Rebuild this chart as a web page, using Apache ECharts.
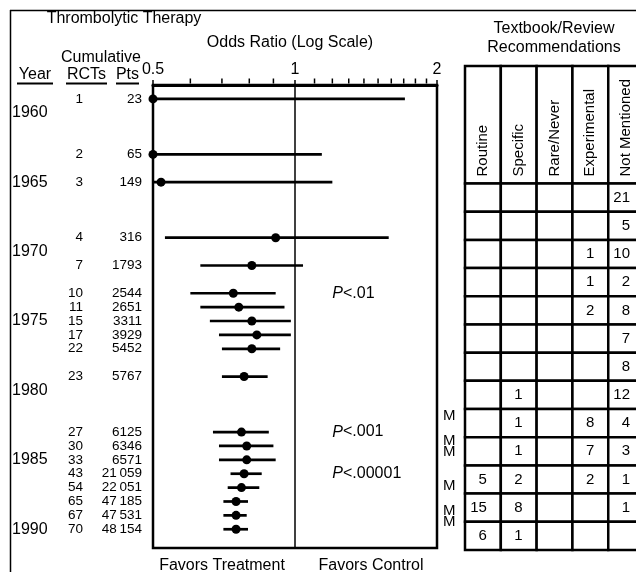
<!DOCTYPE html>
<html><head><meta charset="utf-8">
<script src="https://cdn.jsdelivr.net/npm/echarts@6/dist/echarts.min.js"></script>
<style>html,body{margin:0;padding:0;background:#fff}#c{width:636px;height:572px}</style>
</head><body><div id="c"></div>
<script>
// ---- data ----
const rowYears = [1959,1963,1965,1969,1971,1973,1974,1975,1976,1977,1979,1983,1984,1985,1986,1987,1988,1989,1990];
const cumRCTs = ['1','2','3','4','7','10','11','15','17','22','23','27','30','33','43','54','65','67','70'];
const cumPts = ['23','65','149','316','1793','2544','2651','3311','3929','5452','5767','6125','6346','6571','21\u2009059','22\u2009051','47\u2009185','47\u2009531','48\u2009154'];
const oddsRatio = [0.5,0.5,0.52,0.91,0.81,0.74,0.76,0.81,0.83,0.81,0.78,0.77,0.79,0.79,0.78,0.77,0.75,0.75,0.75];
const ciLow  = [0.5,0.5,0.5,0.53,0.63,0.60,0.63,0.66,0.69,0.70,0.70,0.67,0.69,0.69,0.73,0.72,0.705,0.705,0.705];
const ciHigh = [1.71,1.14,1.2,1.58,1.04,0.91,0.95,0.98,0.98,0.93,0.875,0.88,0.90,0.91,0.85,0.84,0.795,0.79,0.795];
const yearTicks = [1960,1965,1970,1975,1980,1985,1990];
const orTicks = [0.5,1,2];
const orMinorTicks = [0.6,0.7,0.8,0.9,1.1,1.2,1.3,1.4,1.5,1.6,1.7,1.8,1.9];
const pNotes = ['<.01','<.001','<.00001'];
const pYears = [1973,1983,1986];
const pNoteOR = 1.2;
const metaYears = [1981.8,1983.6,1984.4,1986.9,1988.7,1989.5];
const recColumns = ['Routine','Specific','Rare/Never','Experimental','Not Mentioned'];
const recPeriodStart = [1965,1967,1969,1971,1973,1975,1977,1979,1981,1983,1985,1987,1989];
const recPeriodLen = 2;
const recRoutine      = [null,null,null,null,null,null,null,null,null,null,5,15,6];
const recSpecific     = [null,null,null,null,null,null,null,1,1,1,2,8,1];
const recRareNever    = [null,null,null,null,null,null,null,null,null,null,null,null,null];
const recExperimental = [null,null,1,1,2,null,null,null,8,7,2,null,null];
const recNotMentioned = [21,5,10,2,8,7,8,12,4,3,1,1,null];

// ---- chart ----
const FONT = "'Liberation Sans', Arial, Helvetica, sans-serif";
const recValues = [recRoutine, recSpecific, recRareNever, recExperimental, recNotMentioned];
const cellData = [];
recValues.forEach((col, c) => col.forEach((v, r) => cellData.push([c, recPeriodStart[r], v == null ? '' : String(v)])));

const chart = echarts.init(document.getElementById('c'), null, {renderer: 'canvas'});
const yRange = {min: 1958, max: 1991.35};
const hideAxis = {axisLine: {show: false}, axisTick: {show: false}, splitLine: {show: false}};
const keepLabels = {hideOverlap: false, showMinLabel: true, showMaxLabel: true};
// the last table column is cut by the picture's right edge: only this much of the 5 columns is visible
const tableVisibleCols = 4.775;
// "M" marks sit close together; spread them over two label axes so none is dropped
const metaYearsA = metaYears.filter((_, i) => i % 2 === 0);
const metaYearsB = metaYears.filter((_, i) => i % 2 === 1);
const mAxis = vals => Object.assign({gridIndex: 0, type: 'value', inverse: true, position: 'right'}, yRange, hideAxis,
  {axisLabel: Object.assign({customValues: vals, align: 'left', margin: 6, fontSize: 15, color: '#000', fontFamily: FONT,
    formatter: () => 'M'}, keepLabels)});

chart.setOption({
  animation: false,
  backgroundColor: '#fff',
  textStyle: {fontFamily: FONT, color: '#000'},
  grid: [
    {left: 153, top: 85, width: 284, height: 463, show: true, borderColor: '#000', borderWidth: 2.5, backgroundColor: 'transparent'},
    {left: 465, top: 66, width: 171, height: 484, show: false}
  ],
  xAxis: [
    {gridIndex: 0, type: 'log', logBase: 2, min: 0.5, max: 2, interval: 1, splitNumber: 2, position: 'top',
     axisLine: {show: true, lineStyle: {color: '#000', width: 3}},
     axisTick: {show: true, length: 5, lineStyle: {color: '#000', width: 1.5}},
     axisLabel: Object.assign({show: true, color: '#000', fontSize: 16, fontFamily: FONT, margin: 7,
       formatter: v => { const t = orTicks.find(o => Math.abs(o - v) < 1e-6); return t == null ? '' : String(t); }}, keepLabels),
     splitLine: {show: false}},
    {gridIndex: 1, type: 'value', min: 0, max: tableVisibleCols, show: false}
  ],
  yAxis: [
    Object.assign({gridIndex: 0, type: 'value', inverse: true, position: 'left'}, yRange, hideAxis,
      {axisLabel: Object.assign({customValues: yearTicks, align: 'left', margin: 141, fontSize: 16, color: '#000', fontFamily: FONT,
        formatter: v => String(v)}, keepLabels)}),
    Object.assign({gridIndex: 0, type: 'value', inverse: true, position: 'left'}, yRange, hideAxis,
      {axisLabel: Object.assign({customValues: rowYears, align: 'right', margin: 70, fontSize: 13.5, lineHeight: 12, color: '#000', fontFamily: FONT,
        formatter: v => cumRCTs[rowYears.indexOf(v)] || ''}, keepLabels)}),
    Object.assign({gridIndex: 0, type: 'value', inverse: true, position: 'left'}, yRange, hideAxis,
      {axisLabel: Object.assign({customValues: rowYears, align: 'right', margin: 11, fontSize: 13.5, lineHeight: 12, color: '#000', fontFamily: FONT,
        formatter: v => cumPts[rowYears.indexOf(v)] || ''}, keepLabels)}),
    mAxis(metaYearsA),
    mAxis(metaYearsB),
    {gridIndex: 1, type: 'value', inverse: true, min: 1956.66, max: 1991, show: false}
  ],
  series: [
    {
      type: 'custom', xAxisIndex: 0, yAxisIndex: 0, silent: true,
      data: rowYears.map((y, i) => [ciLow[i], ciHigh[i], y]),
      encode: {x: [0, 1], y: 2},
      renderItem: (params, api) => {
        const a = api.coord([api.value(0), api.value(2)]);
        const b = api.coord([api.value(1), api.value(2)]);
        return {type: 'line', shape: {x1: a[0], y1: a[1], x2: b[0], y2: b[1]}, style: {stroke: '#000', lineWidth: 2.7}};
      }
    },
    {
      type: 'scatter', xAxisIndex: 0, yAxisIndex: 0, clip: false, silent: true,
      symbolSize: 9, itemStyle: {color: '#000', opacity: 1},
      data: rowYears.map((y, i) => [oddsRatio[i], y]),
      markLine: {silent: true, symbol: ['none', 'none'], label: {show: false},
        lineStyle: {color: '#000', width: 1.5, type: 'solid', opacity: 1}, data: [{xAxis: 1}]}
    },
    {
      type: 'scatter', xAxisIndex: 0, yAxisIndex: 0, clip: false, silent: true,
      symbol: 'rect', symbolSize: [1.5, 5], symbolOffset: [0, -4], itemStyle: {color: '#000', opacity: 1},
      data: orMinorTicks.map(v => [v, yRange.min])
    },
    {
      type: 'scatter', xAxisIndex: 0, yAxisIndex: 0, clip: false, silent: true,
      symbolSize: 0, itemStyle: {color: '#000', opacity: 1},
      data: pYears.map((y, i) => [pNoteOR, y, pNotes[i]]),
      label: {show: true, position: 'right', distance: 0, color: '#000', fontSize: 16, fontFamily: FONT,
        formatter: p => '{i|P}{n|' + p.value[2] + '}',
        rich: {i: {fontStyle: 'italic', fontSize: 16, fontFamily: FONT, color: '#000'},
               n: {fontSize: 16, fontFamily: FONT, color: '#000'}}}
    },
    {
      type: 'custom', xAxisIndex: 1, yAxisIndex: 5, silent: true, clip: false,
      data: recColumns.map((c, i) => [i, c]),
      renderItem: (params, api) => {
        const i = api.value(0);
        const cs = params.coordSys;
        const x0 = api.coord([i, recPeriodStart[0]])[0];
        const x1 = api.coord([i + 1, recPeriodStart[0]])[0];
        const yb = api.coord([i, recPeriodStart[0]])[1];
        return {type: 'group', children: [
          {type: 'rect', shape: {x: x0, y: cs.y, width: x1 - x0, height: yb - cs.y},
           style: {fill: '#fff', stroke: '#000', lineWidth: 2.5}},
          {type: 'text', x: (x0 + x1) / 2, y: yb - 7, rotation: Math.PI / 2,
           style: {text: recColumns[i], align: 'left', verticalAlign: 'middle', fontSize: 15, fontFamily: FONT, fill: '#000'}}
        ]};
      }
    },
    {
      type: 'custom', xAxisIndex: 1, yAxisIndex: 5, silent: true, clip: false,
      data: cellData,
      encode: {x: 0, y: 1},
      renderItem: (params, api) => {
        const c = api.value(0), y0 = api.value(1);
        const txt = cellData[params.dataIndex][2];
        const p0 = api.coord([c, y0]);
        const p1 = api.coord([c + 1, y0 + recPeriodLen]);
        const children = [{type: 'rect', shape: {x: p0[0], y: p0[1], width: p1[0] - p0[0], height: p1[1] - p0[1]},
          style: {fill: '#fff', stroke: '#000', lineWidth: 2.5}}];
        if (txt) children.push({type: 'text', x: p1[0] - 14, y: (p0[1] + p1[1]) / 2,
          style: {text: txt, align: 'right', verticalAlign: 'middle', fontSize: 15, fontFamily: FONT, fill: '#000'}});
        return {type: 'group', children};
      }
    }
  ],
  graphic: [
    {type: 'line', shape: {x1: 10, y1: 10.5, x2: 636, y2: 10.5}, style: {stroke: '#000', lineWidth: 1.5}},
    {type: 'line', shape: {x1: 10.5, y1: 10, x2: 10.5, y2: 572}, style: {stroke: '#000', lineWidth: 1.5}},
    {type: 'text', x: 124, y: 19, style: {text: 'Thrombolytic Therapy', align: 'center', verticalAlign: 'middle', fontSize: 16, fontFamily: FONT, fill: '#000'}},
    {type: 'text', x: 290, y: 43, style: {text: 'Odds Ratio (Log Scale)', align: 'center', verticalAlign: 'middle', fontSize: 16, fontFamily: FONT, fill: '#000'}},
    {type: 'text', x: 101, y: 58, style: {text: 'Cumulative', align: 'center', verticalAlign: 'middle', fontSize: 16, fontFamily: FONT, fill: '#000'}},
    {type: 'text', x: 35, y: 75, style: {text: 'Year', align: 'center', verticalAlign: 'middle', fontSize: 16, fontFamily: FONT, fill: '#000'}},
    {type: 'text', x: 86.5, y: 75, style: {text: 'RCTs', align: 'center', verticalAlign: 'middle', fontSize: 16, fontFamily: FONT, fill: '#000'}},
    {type: 'text', x: 127.5, y: 75, style: {text: 'Pts', align: 'center', verticalAlign: 'middle', fontSize: 16, fontFamily: FONT, fill: '#000'}},
    {type: 'line', shape: {x1: 17, y1: 83.5, x2: 53, y2: 83.5}, style: {stroke: '#000', lineWidth: 2}},
    {type: 'line', shape: {x1: 66, y1: 83.5, x2: 107, y2: 83.5}, style: {stroke: '#000', lineWidth: 2}},
    {type: 'line', shape: {x1: 116, y1: 83.5, x2: 139, y2: 83.5}, style: {stroke: '#000', lineWidth: 2}},
    {type: 'text', x: 554, y: 28.5, style: {text: 'Textbook/Review', align: 'center', verticalAlign: 'middle', fontSize: 16, fontFamily: FONT, fill: '#000'}},
    {type: 'text', x: 554, y: 47.5, style: {text: 'Recommendations', align: 'center', verticalAlign: 'middle', fontSize: 16, fontFamily: FONT, fill: '#000'}},
    {type: 'text', x: 222, y: 566, style: {text: 'Favors Treatment', align: 'center', verticalAlign: 'middle', fontSize: 16, fontFamily: FONT, fill: '#000'}},
    {type: 'text', x: 371, y: 566, style: {text: 'Favors Control', align: 'center', verticalAlign: 'middle', fontSize: 16, fontFamily: FONT, fill: '#000'}}
  ]
});
</script>
</body></html>
